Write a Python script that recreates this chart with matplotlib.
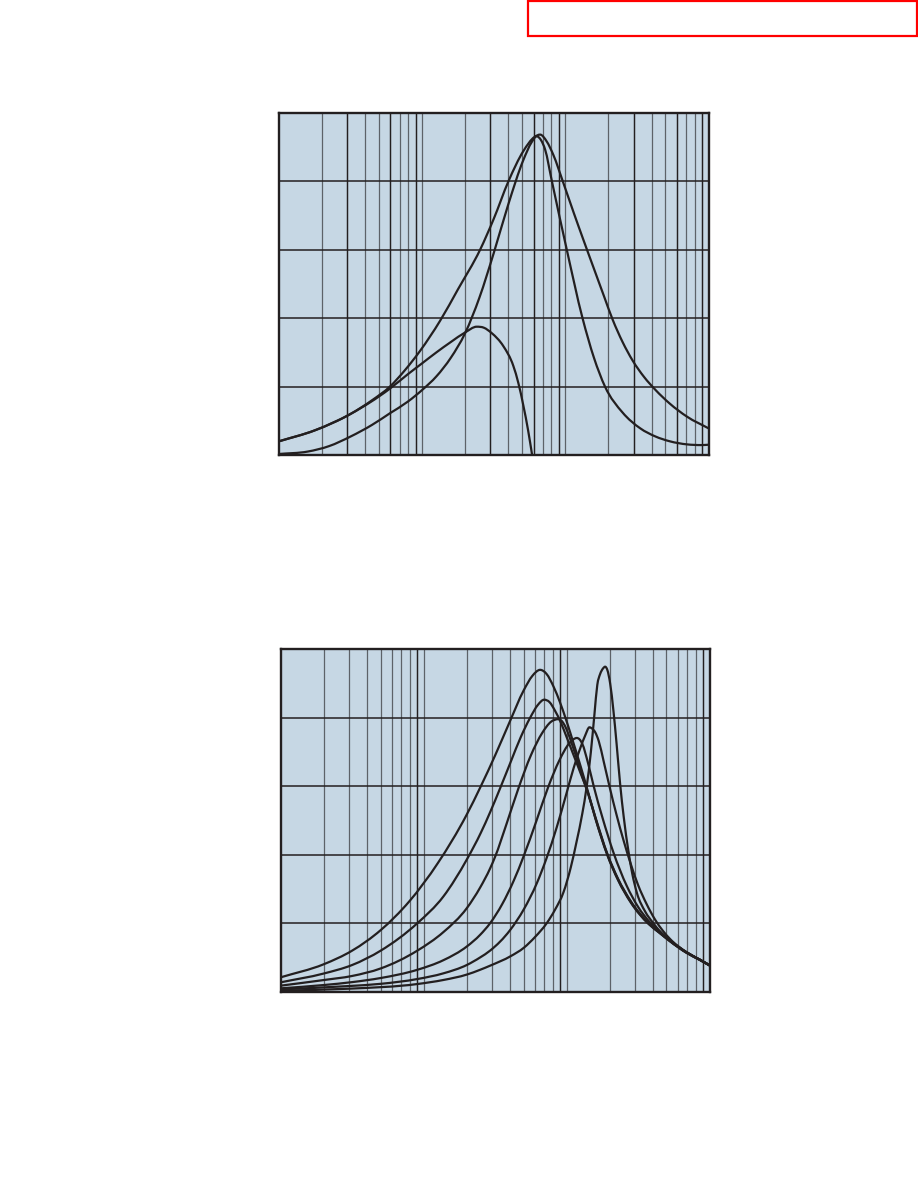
import numpy as np
import matplotlib
matplotlib.use("Agg")
import matplotlib.pyplot as plt
from matplotlib.patches import Rectangle, PathPatch
from matplotlib.path import Path

# ---------------- data (x given as log10 of frequency in Hz) ----------------
# top panel
a_logf = [1.0, 1.25, 1.5, 1.65, 1.775, 1.88, 1.985, 2.125, 2.25, 2.405, 2.5, 2.603, 2.707,
          2.784, 2.824, 2.87, 2.917, 2.982, 3.06, 3.125, 3.2, 3.27, 3.33, 3.4, 3.47, 3.55,
          3.63, 3.73, 3.85, 4.0]
a_y = [0.2, 0.36, 0.6, 0.8, 1.0, 1.24, 1.52, 1.96, 2.42, 3.0, 3.45, 4.0, 4.44,
       4.645, 4.68, 4.58, 4.38, 4.0, 3.53, 3.15, 2.72, 2.32, 1.98, 1.65, 1.38, 1.14,
       0.95, 0.75, 0.56, 0.39]

b_logf = [1.0, 1.2, 1.35, 1.5, 1.65, 1.775, 1.9, 2.0, 2.1, 2.2, 2.3, 2.4, 2.5, 2.6, 2.707,
          2.765, 2.8, 2.83, 2.859, 2.906, 3.01, 3.12, 3.2, 3.277, 3.4, 3.523, 3.63, 3.73,
          3.85, 3.95, 4.0]
b_y = [0.015, 0.05, 0.13, 0.27, 0.44, 0.61, 0.78, 0.95, 1.15, 1.42, 1.78, 2.3, 2.95,
       3.65, 4.31, 4.57, 4.655, 4.6, 4.46, 4.0, 3.0, 2.0, 1.42, 1.0, 0.62, 0.39, 0.27,
       0.2, 0.155, 0.145, 0.15]

c_logf = [1.0, 1.25, 1.5, 1.775, 1.9, 2.0, 2.1, 2.2, 2.3, 2.381, 2.43, 2.486, 2.567,
          2.637, 2.672, 2.707, 2.74, 2.768]
c_y = [0.2, 0.36, 0.6, 0.97, 1.18, 1.34, 1.5, 1.65, 1.79, 1.874, 1.86, 1.78, 1.59,
       1.30, 1.05, 0.72, 0.36, 0.0]

# bottom panel
p1_logf = [1.0, 1.3, 1.5, 1.7, 1.9, 2.1, 2.3, 2.4, 2.5, 2.6, 2.7, 2.76, 2.815, 2.86,
           2.91, 2.955, 3.0, 3.05, 3.1, 3.15, 3.2, 3.286, 3.36, 3.45, 3.573, 3.65, 3.724,
           3.841, 3.93, 4.0]
p1_y = [0.21, 0.40, 0.60, 0.90, 1.32, 1.88, 2.58, 3.0, 3.45, 3.93, 4.4, 4.61, 4.70,
        4.64, 4.45, 4.22, 3.95, 3.62, 3.28, 2.92, 2.55, 2.0, 1.64, 1.31, 1.0, 0.86,
        0.74, 0.57, 0.47, 0.39]

p2_logf = [1.0, 1.3, 1.5, 1.7, 1.956, 2.138, 2.302, 2.4, 2.465, 2.535, 2.61, 2.68, 2.745,
           2.8, 2.843, 2.88, 2.92, 2.96, 3.0, 3.05, 3.1, 3.15, 3.2, 3.286, 3.36, 3.45,
           3.573, 3.65, 3.724, 3.841, 3.93, 4.0]
p2_y = [0.137, 0.265, 0.39, 0.6, 1.0, 1.39, 1.93, 2.32, 2.62, 2.97, 3.36, 3.72, 4.0,
        4.19, 4.264, 4.23, 4.1, 3.93, 3.72, 3.45, 3.18, 2.9, 2.54, 1.99, 1.63, 1.3,
        0.99, 0.86, 0.735, 0.565, 0.465, 0.385]

p3_logf = [1.0, 1.3, 1.5, 1.7, 1.956, 2.138, 2.302, 2.395, 2.465, 2.5, 2.58, 2.665, 2.75,
           2.83, 2.89, 2.943, 2.975, 3.0, 3.04, 3.08, 3.12, 3.15, 3.2, 3.286, 3.36, 3.45,
           3.573, 3.65, 3.724, 3.841, 3.93, 4.0]
p3_y = [0.088, 0.17, 0.23, 0.34, 0.6, 0.87, 1.22, 1.52, 1.8, 1.97, 2.45, 2.98, 3.45,
        3.78, 3.94, 3.98, 3.93, 3.83, 3.6, 3.35, 3.08, 2.9, 2.56, 2.01, 1.65, 1.32,
        1.0, 0.87, 0.74, 0.57, 0.47, 0.385]

p4_logf = [1.0, 1.3, 1.5, 1.7, 1.956, 2.138, 2.302, 2.395, 2.465, 2.55, 2.63, 2.7, 2.79,
           2.87, 2.95, 3.02, 3.072, 3.11, 3.15, 3.19, 3.25, 3.33, 3.42, 3.5, 3.58, 3.65,
           3.724, 3.841, 3.93, 4.0]
p4_y = [0.049, 0.097, 0.14, 0.2, 0.32, 0.46, 0.66, 0.83, 1.0, 1.28, 1.62, 1.98, 2.5,
        2.98, 3.38, 3.63, 3.705, 3.62, 3.34, 3.0, 2.55, 2.02, 1.55, 1.24, 1.02, 0.88,
        0.745, 0.57, 0.47, 0.385]

p5_logf = [1.0, 1.48, 1.7, 1.956, 2.138, 2.302, 2.395, 2.465, 2.605, 2.7, 2.791, 2.86,
           2.931, 3.0, 3.05, 3.1, 3.13, 3.16, 3.18, 3.2, 3.225, 3.26, 3.3, 3.35, 3.4,
           3.45, 3.5, 3.56, 3.62, 3.67, 3.724, 3.841, 3.93, 4.0]
p5_y = [0.034, 0.083, 0.115, 0.185, 0.268, 0.39, 0.5, 0.6, 0.9, 1.2, 1.58, 1.95,
        2.4, 2.9, 3.27, 3.58, 3.74, 3.861, 3.84, 3.79, 3.66, 3.36, 3.0, 2.58, 2.2,
        1.86, 1.56, 1.28, 1.05, 0.9, 0.77, 0.575, 0.47, 0.385]

p6_logf = [1.0, 1.48, 1.956, 2.138, 2.302, 2.395, 2.465, 2.61, 2.7, 2.78, 2.861, 2.92,
           2.978, 3.03, 3.071, 3.11, 3.141, 3.17, 3.195, 3.215, 3.235, 3.255, 3.27, 3.285,
           3.305, 3.328, 3.35, 3.374, 3.4, 3.433, 3.46, 3.491, 3.55, 3.607, 3.65, 3.724,
           3.841, 3.93, 4.0]
p6_y = [0.015, 0.044, 0.112, 0.171, 0.25, 0.32, 0.38, 0.52, 0.64, 0.8, 1.0, 1.2,
        1.45, 1.82, 2.2, 2.6, 3.0, 3.5, 4.05, 4.48, 4.64, 4.72, 4.746, 4.7,
        4.5, 4.1, 3.62, 3.05, 2.55, 2.05, 1.72, 1.45, 1.17, 1.0, 0.89, 0.75,
        0.575, 0.47, 0.385]

x_min, x_max = 10, 10000
y_min, y_max = 0, 5

top_series = [(a_logf, a_y), (b_logf, b_y), (c_logf, c_y)]
bottom_series = [(p1_logf, p1_y), (p2_logf, p2_y), (p3_logf, p3_y),
                 (p4_logf, p4_y), (p5_logf, p5_y), (p6_logf, p6_y)]

# ---------------- styling ----------------
BG = "#c6d7e4"
INK = "#231f20"
GRAY = "#5d6268"
LW_CURVE = 1.6

fig = plt.figure(figsize=(9.18, 11.88), dpi=100)
fig.patch.set_facecolor("white")


def setup(ax, dark_mults):
    ax.set_xscale("log")
    ax.set_xlim(x_min, x_max)
    ax.set_ylim(y_min, y_max)
    ax.set_facecolor(BG)
    for dec in [10, 100, 1000]:
        for m in range(1, 10):
            xv = dec * m
            if xv <= x_min or xv >= x_max:
                continue
            if m in dark_mults:
                ax.axvline(xv, color=INK, lw=1.05, zorder=1)
            else:
                ax.axvline(xv, color=GRAY, lw=0.9, zorder=1)
    for yv in [1, 2, 3, 4]:
        ax.axhline(yv, color=INK, lw=1.1, zorder=1)
    for s in ax.spines.values():
        s.set_color(INK)
        s.set_linewidth(1.7)
        s.set_zorder(5)
    ax.set_xticks([])
    ax.set_yticks([])
    ax.minorticks_off()
    ax.tick_params(which="both", length=0, labelbottom=False, labelleft=False)


def smooth_curve(ax, logf, yv):
    """Draw a smooth monotone cubic (Bezier) line through the read points."""
    x = np.asarray(logf, float)
    y = np.asarray(yv, float)
    h = np.diff(x)
    d = np.diff(y) / h
    n = len(x)
    m = np.zeros(n)
    m[0], m[-1] = d[0], d[-1]
    for i in range(1, n - 1):
        if d[i - 1] * d[i] <= 0:
            m[i] = 0.0
        else:
            w = (h[i] * d[i - 1] + h[i - 1] * d[i]) / (h[i - 1] + h[i])
            lim = 3 * min(abs(d[i - 1]), abs(d[i]))
            m[i] = np.sign(w) * min(abs(w), lim)
    verts = [(x[0], y[0])]
    codes = [Path.MOVETO]
    for i in range(n - 1):
        verts += [(x[i] + h[i] / 3, y[i] + m[i] * h[i] / 3),
                  (x[i + 1] - h[i] / 3, y[i + 1] - m[i + 1] * h[i] / 3),
                  (x[i + 1], y[i + 1])]
        codes += [Path.CURVE4] * 3
    verts = np.array(verts)
    verts[:, 0] = 10 ** verts[:, 0]
    patch = PathPatch(Path(verts, codes), facecolor="none", edgecolor=INK,
                      lw=LW_CURVE, zorder=3, joinstyle="round", capstyle="round")
    ax.add_patch(patch)


ax1 = fig.add_axes([279 / 918, 1 - 455 / 1188, 429.5 / 918, 342.3 / 1188])
setup(ax1, {3, 6, 9})
for lf, yv in top_series:
    smooth_curve(ax1, lf, yv)

ax2 = fig.add_axes([280.7 / 918, 1 - 991.7 / 1188, 428.8 / 918, 342.4 / 1188])
setup(ax2, {9})
for lf, yv in bottom_series:
    smooth_curve(ax2, lf, yv)

# red frame at top right
fig.patches.append(Rectangle((527.5 / 918, 1 - 35.5 / 1188), 389 / 918, 34.5 / 1188,
                             transform=fig.transFigure, fill=False,
                             edgecolor="#ff0000", lw=1.6))

fig.savefig("out.png", dpi=100, facecolor="white")
